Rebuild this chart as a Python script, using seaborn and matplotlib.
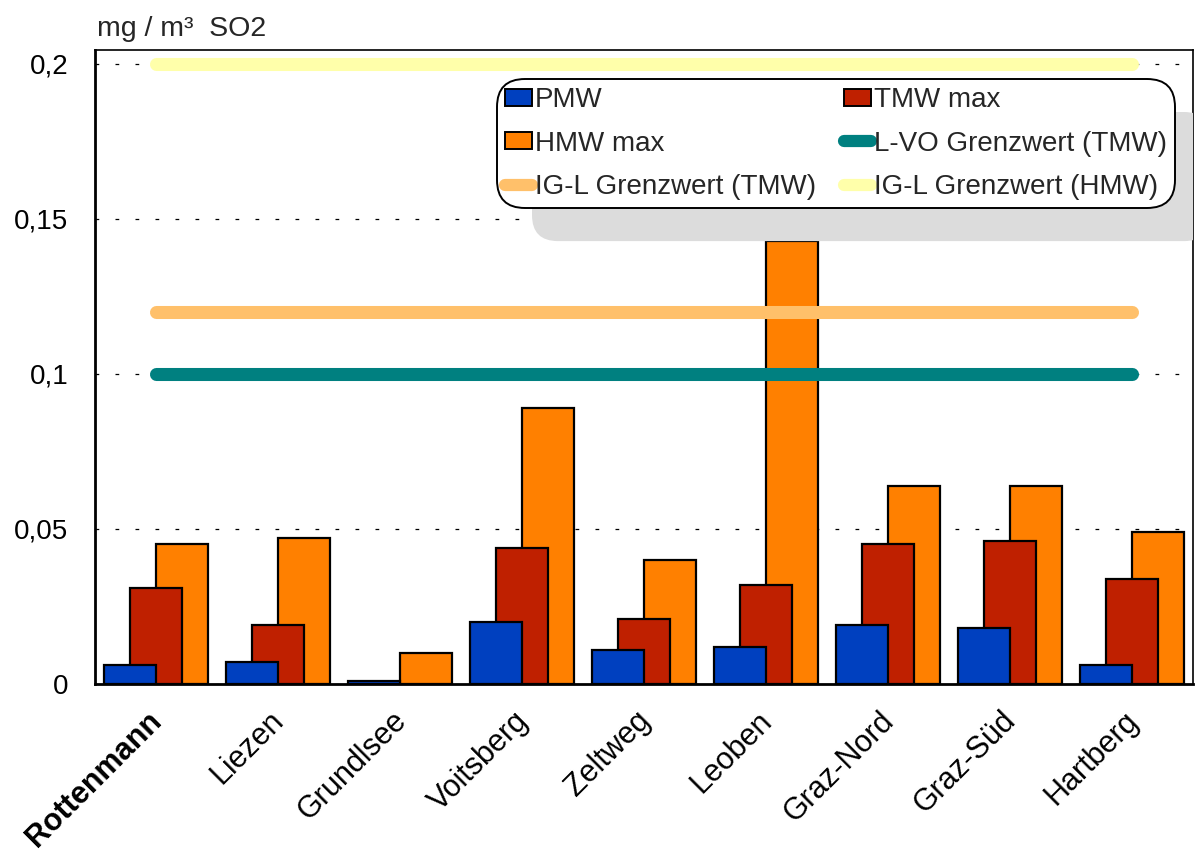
import numpy as np
import pandas as pd
import matplotlib
matplotlib.use("Agg")
import matplotlib.pyplot as plt
import seaborn as sns
from matplotlib.lines import Line2D
from matplotlib.patches import FancyBboxPatch, Patch
from matplotlib.transforms import IdentityTransform, ScaledTranslation

# ---------------- data ----------------
stations = ["Rottenmann", "Liezen", "Grundlsee", "Voitsberg", "Zeltweg",
            "Leoben", "Graz-Nord", "Graz-Süd", "Hartberg"]
pmw = [0.006, 0.007, 0.001, 0.020, 0.011, 0.012, 0.019, 0.018, 0.006]
tmw_max = [0.031, 0.019, np.nan, 0.044, 0.021, 0.032, 0.045, 0.046, 0.034]
hmw_max = [0.045, 0.047, 0.010, 0.089, 0.040, 0.143, 0.064, 0.064, 0.049]
lvo_tmw_limit = 0.10
igl_tmw_limit = 0.12
igl_hmw_limit = 0.20
yticks = [0, 0.05, 0.1, 0.15, 0.2]
ytick_labels = ["0", "0,05", "0,1", "0,15", "0,2"]
unit_label = "mg / m³  SO2"
series_names = ["PMW", "TMW max", "HMW max", "L-VO Grenzwert (TMW)",
                "IG-L Grenzwert (TMW)", "IG-L Grenzwert (HMW)"]

# ---------------- style ----------------
sns.set_theme(style="white")
plt.rcParams["font.family"] = ["Liberation Sans", "DejaVu Sans"]

c_pmw = "#0040BF"
c_tmw = "#BF2000"
c_hmw = "#FF8000"
c_lvo = "#008080"
c_igl_tmw = "#FFC06A"
c_igl_hmw = "#FFFFAA"

fig = plt.figure(figsize=(11.96, 8.52), dpi=100)
ax = fig.add_axes([95 / 1196, 1 - 684 / 852, (1193 - 95) / 1196, (684 - 50) / 852])

n = len(stations)
idx = np.arange(n)
bw = 0.426
off = 0.213

df = pd.DataFrame({"pos": idx, "pmw": pmw, "tmw": tmw_max, "hmw": hmw_max})

for col, shift, colr in [("hmw", off, c_hmw), ("tmw", 0.0, c_tmw), ("pmw", -off, c_pmw)]:
    sub = df.dropna(subset=[col])
    sns.barplot(x=sub["pos"] + shift, y=sub[col], native_scale=True, orient="x",
                width=bw, color=colr, saturation=1, edgecolor="black",
                linewidth=1.6, errorbar=None, ax=ax, zorder=2)

for val, colr in [(igl_hmw_limit, c_igl_hmw), (igl_tmw_limit, c_igl_tmw), (lvo_tmw_limit, c_lvo)]:
    sns.lineplot(x=[idx[0], idx[-1]], y=[val, val], color=colr, linewidth=9.4,
                 solid_capstyle="round", ax=ax, zorder=3, legend=False)

ax.set_xlim(-0.5, n - 0.5)
ax.set_ylim(0, 0.2045)
ax.set_yticks(yticks)
ax.set_yticklabels(ytick_labels)
ax.set_xticks(idx)
ax.set_xticklabels(stations)
ax.set_xlabel("")
ax.set_ylabel("")
ax.tick_params(axis="y", length=0, pad=19, labelsize=20, labelcolor="black")
ax.tick_params(axis="x", length=0, pad=2, labelsize=22, labelcolor="black")

ax.yaxis.grid(True, color="black", linewidth=0.9, linestyle=(0, (3, 13)), zorder=1)
ax.xaxis.grid(False)
ax.set_axisbelow(True)

for s in ["left", "bottom"]:
    ax.spines[s].set_color("black")
    ax.spines[s].set_linewidth(2.0)
for s in ["top", "right"]:
    ax.spines[s].set_color("black")
    ax.spines[s].set_linewidth(1.2)

shift_tr = ScaledTranslation(-9 / 100, -19 / 100, fig.dpi_scale_trans)
for i, lab in enumerate(ax.get_xticklabels()):
    lab.set_rotation(45)
    lab.set_ha("right")
    lab.set_va("top")
    lab.set_rotation_mode("anchor")
    lab.set_transform(lab.get_transform() + shift_tr)
    if i == 0:
        lab.set_fontweight("bold")

fig.text(97 / 1196, 1 - 36 / 852, unit_label, fontsize=20.5, ha="left", va="baseline")

# ---------------- legend ----------------
def sq(c):
    return Patch(facecolor=c, edgecolor="black", linewidth=1.4)

def ln(c):
    return Line2D([], [], color=c, linewidth=8.8, solid_capstyle="round")

handles = [sq(c_pmw), sq(c_hmw), ln(c_igl_tmw), sq(c_tmw), ln(c_lvo), ln(c_igl_hmw)]
labels = [series_names[0], series_names[2], series_names[4],
          series_names[1], series_names[3], series_names[5]]

leg = ax.legend(handles, labels, ncol=2, loc="upper left",
                bbox_to_anchor=((497 - 95) / 1098, (684 - 79) / 634),
                fontsize=20, frameon=True, handlelength=0.97, handleheight=0.55,
                handletextpad=0.1, columnspacing=1.0, labelspacing=0.62,
                borderpad=0.3, borderaxespad=0, fancybox=True)
frame = leg.get_frame()
frame.set_edgecolor("black")
frame.set_linewidth(1.4)
frame.set_facecolor("white")
frame.set_alpha(1)
frame.set_boxstyle("round,pad=0,rounding_size=1.0")
leg.set_zorder(6)

fig.canvas.draw()
bb = frame.get_window_extent()
shadow = FancyBboxPatch((bb.x0 + 35, bb.y0 - 33), bb.width, bb.height,
                        boxstyle="round,pad=0,rounding_size=26",
                        transform=IdentityTransform(), facecolor="#DCDCDC",
                        edgecolor="none", zorder=5)
ax.add_patch(shadow)

fig.savefig("out.png", dpi=100)
